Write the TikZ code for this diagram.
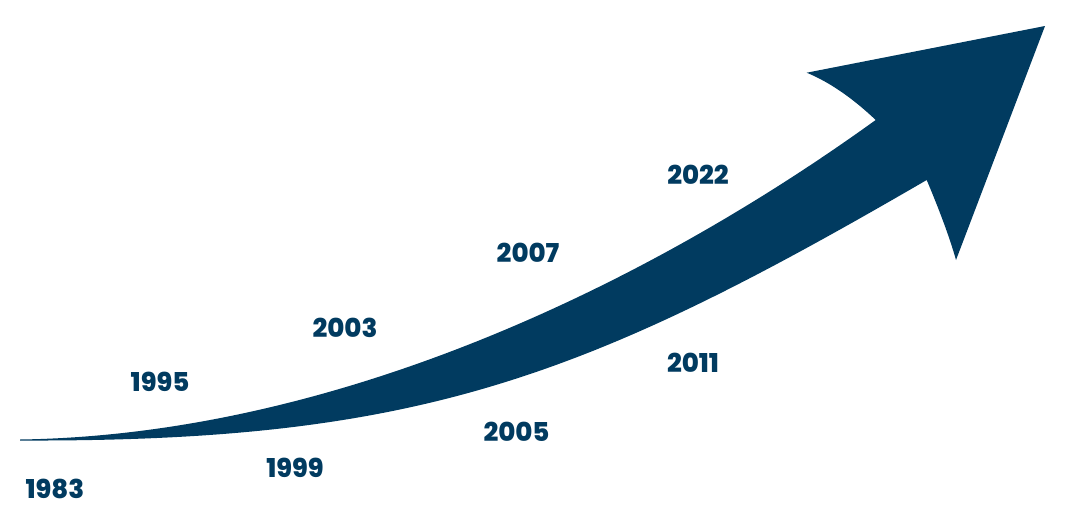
\documentclass[tikz,border=0pt]{standalone}
\usepackage{fontspec}
\setmainfont{Poppins}[BoldFont={Poppins ExtraBold}]
\definecolor{navy}{RGB}{1,59,96}
\begin{document}
\begin{tikzpicture}[x=1pt,y=-1pt,
  yearlbl/.style={text=navy,font=\fontsize{26}{26}\selectfont\bfseries,inner sep=0pt,anchor=center}]
\useasboundingbox (0,0) rectangle (1066,514);
% arrow body
\coordinate (tail) at (20,439.5);
\coordinate (notchT) at (875.7,120);
\coordinate (barbT) at (806.7,72.7);
\coordinate (tip) at (1045,26);
\coordinate (barbB) at (956,260);
\coordinate (notchB) at (926.7,180);
\fill[navy] (tail)
  .. controls (330,435) and (640,290) .. (notchT)
  .. controls (852.4,97.9) and (829.4,82.1) .. (barbT)
  -- (tip) -- (barbB)
  .. controls (950,238.7) and (940.2,212) .. (notchB)
  .. controls (586,378) and (420,442) .. (20,440.5)
  -- cycle;
\node[yearlbl] (y1983) at (55,489) {1983};
\node[yearlbl] (y1995) at (160,382) {1995};
\node[yearlbl] (y1999) at (295,468) {1999};
\node[yearlbl] (y2003) at (345,327.5) {2003};
\node[yearlbl] (y2005) at (516.5,431.5) {2005};
\node[yearlbl] (y2007) at (528,253) {2007};
\node[yearlbl] (y2011) at (693,362.5) {2011};
\node[yearlbl] (y2022) at (698,174.5) {2022};
\end{tikzpicture}
\end{document}
